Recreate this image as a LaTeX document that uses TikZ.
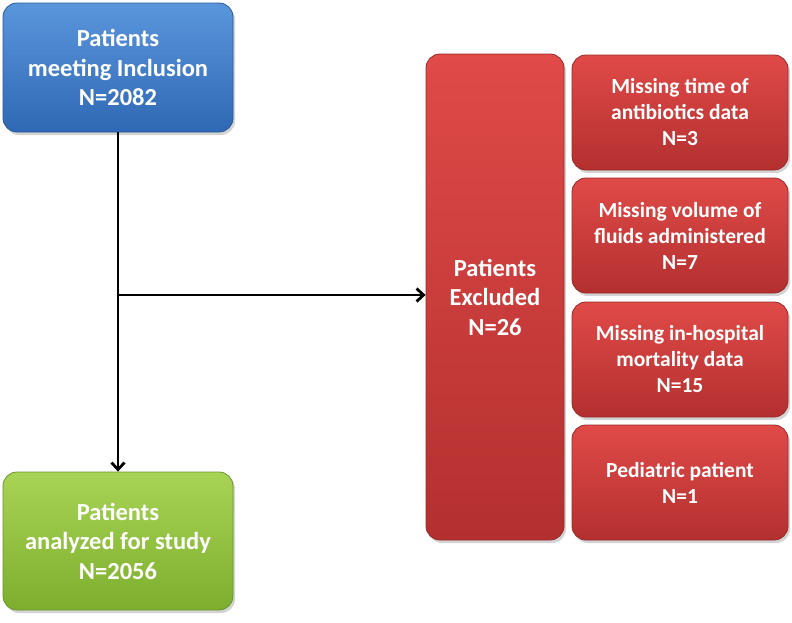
\documentclass[tikz,border=0pt]{standalone}
\usepackage{fontspec}
\setmainfont{Carlito}
\usepackage{xcolor}
\usepackage{tikz}
\usetikzlibrary{arrows.meta, positioning, shadows, calc}
\definecolor{incltop}{HTML}{5A96DC}
\definecolor{inclbot}{HTML}{2F68B4}
\definecolor{studytop}{HTML}{A8D455}
\definecolor{studybot}{HTML}{7DAE2E}
\definecolor{excltop}{HTML}{E04A48}
\definecolor{exclbot}{HTML}{B3302F}

\begin{document}
\begin{tikzpicture}[
    x=1pt, y=-1pt,
    box/.style={rectangle, rounded corners=14pt, align=center, text=white, font=\bfseries\fontsize{24.5}{29.5}\selectfont, inner sep=0pt, drop shadow={shadow xshift=2pt, shadow yshift=-3pt, opacity=0.35}},
    bluebox/.style={box, top color=incltop, bottom color=inclbot, draw=inclbot!85!black, line width=0.8pt},
    greenbox/.style={box, top color=studytop, bottom color=studybot, draw=studybot!85!black, line width=0.8pt},
    redbox/.style={box, top color=excltop, bottom color=exclbot, draw=exclbot!85!black, line width=0.8pt},
    reason/.style={redbox, minimum width=216pt, minimum height=115pt, font=\bfseries\fontsize{21.5}{26}\selectfont},
    arr/.style={draw, line width=2.8pt, -{Straight Barb[length=7pt, width=13pt, line width=2.8pt]}}
]
    \useasboundingbox (0,0) rectangle (792,622);

    \node[bluebox, minimum width=230pt, minimum height=129pt] (incl)  at (118,67.5) {Patients\\meeting Inclusion\\N=2082};
    \node[greenbox, minimum width=230pt, minimum height=138pt] (study) at (118,541)  {Patients\\analyzed for study\\N=2056};
    \node[redbox, minimum width=138pt, minimum height=486pt]  (excl)  at (495,297)  {Patients\\Excluded\\N=26};

    \node[reason] (abx)   at (680,112.5) {Missing time of\\antibiotics data\\N=3};
    \node[reason] (fluid) at (680,235.5) {Missing volume of\\fluids administered\\N=7};
    \node[reason] (mort)  at (680,359.5) {Missing in-hospital\\mortality data\\N=15};
    \node[reason] (peds)  at (680,482.5) {Pediatric patient\\N=1};

    \coordinate (split) at (118,295);

    \draw[arr] (incl) -- (study);
    \draw[arr] (split) -- (excl.west |- split);
\end{tikzpicture}
\end{document}
